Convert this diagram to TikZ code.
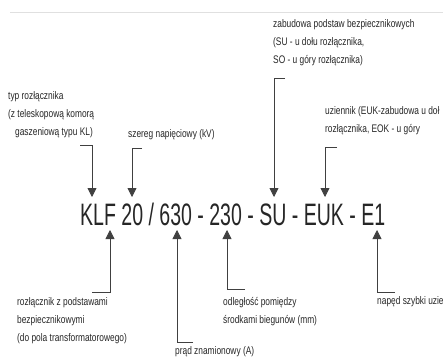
\documentclass[tikz,border=0pt]{standalone}
\usepackage{fontspec}
\setmainfont{Liberation Sans}[FakeStretch=0.76]
\newfontfamily\codefont{Liberation Sans}[FakeStretch=0.63]
\usetikzlibrary{arrows.meta}

\tikzset{
  lbl/.style={anchor=north west,inner sep=0pt,align=left,text=black!85,
    font=\fontsize{11}{18}\selectfont},
  pointer/.style={draw=black!75,line width=0.8pt,-{Triangle[length=9pt,width=9pt]}},
}

\begin{document}
\begin{tikzpicture}[x=1pt,y=-1pt]
\useasboundingbox[fill=white] (0,0) rectangle (443,363);
\draw[black!12] (10,12) -- (443,12);
% oznaczenie
\node[anchor=base west,inner sep=0pt,text=black!85,
  font=\codefont\fontsize{31}{31}\selectfont] (code) at (80,225)
  {KLF 20 / 630 - 230 - SU - EUK - E1};
% opisy u gory
\node[lbl] (typ) at (8,91) {typ rozłącznika\\(z teleskopową komorą\\\hspace*{7pt}gaszeniową typu KL)};
\node[lbl] (szereg) at (128,129) {szereg napięciowy (kV)};
\node[lbl] (podstawy) at (273,19) {zabudowa podstaw bezpiecznikowych\\(SU - u dołu rozłącznika,\\SO - u góry rozłącznika)};
\node[lbl] (uziemnik) at (325,106) {uziennik (EUK-zabudowa u doł\\rozłącznika, EOK - u góry};
% opisy u dolu
\node[lbl] (rozl) at (17,297) {rozłącznik z podstawami\\bezpiecznikowymi\\(do pola transformatorowego)};
\node[lbl] (prad) at (175,346) {prąd znamionowy (A)};
\node[lbl] (odl) at (223,297) {odległość pomiędzy\\środkami biegunów (mm)};
\node[lbl] (naped) at (377,296) {napęd szybki uzie};
% strzalki
\coordinate (s1) at (80,145);  \coordinate (t1) at (92,197);
\coordinate (s2) at (142,148); \coordinate (t2) at (132,197);
\coordinate (s3) at (285,78);  \coordinate (t3) at (274,197);
\coordinate (s4) at (337,147); \coordinate (t4) at (325,197);
\coordinate (s5) at (92,292);  \coordinate (t5) at (110,230);
\coordinate (s6) at (193,342); \coordinate (t6) at (177,230);
\coordinate (s7) at (245,289); \coordinate (t7) at (227,230);
\coordinate (s8) at (395,292); \coordinate (t8) at (377,230);
\foreach \a/\b in {s1/t1,s2/t2,s3/t3,s4/t4,s5/t5,s6/t6,s7/t7,s8/t8}
  \draw[pointer] (\a) -| (\b);
\end{tikzpicture}
\end{document}
